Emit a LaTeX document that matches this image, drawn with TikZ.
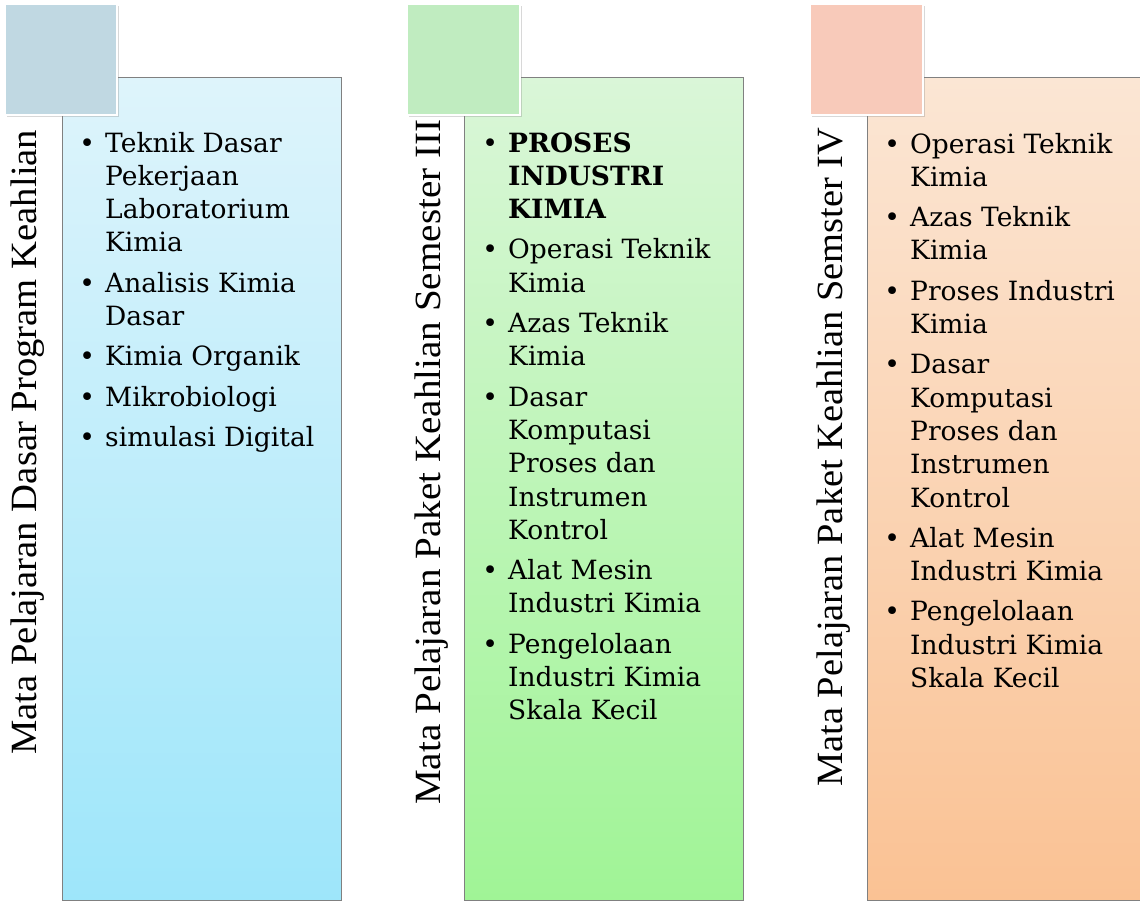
\documentclass[tikz,border=0pt]{standalone}
\usepackage{fontspec}
\setmainfont{DejaVu Serif}
\newfontfamily\vfont{Liberation Serif}
\usetikzlibrary{shadows}
\definecolor{bluetop}{RGB}{222,244,251}
\definecolor{bluebot}{RGB}{158,230,250}
\definecolor{greentop}{RGB}{218,246,216}
\definecolor{greenbot}{RGB}{160,244,150}
\definecolor{orangetop}{RGB}{251,230,212}
\definecolor{orangebot}{RGB}{250,194,148}
\definecolor{bluetab}{RGB}{192,216,226}
\definecolor{greentab}{RGB}{192,236,192}
\definecolor{orangetab}{RGB}{248,202,186}
\tikzset{
  colbox/.style={draw=black!50, line width=0.9pt},
  tabsq/.style={draw=white, line width=2.2pt,
    drop shadow={opacity=0.3, shadow xshift=1.5pt, shadow yshift=-1.5pt}},
  vlabel/.style={rotate=90, anchor=base west, inner sep=0pt,
    font=\vfont\fontsize{37}{40}\selectfont},
  listtext/.style={anchor=base west, inner sep=0pt,
    font=\fontsize{26.5}{33.3}\selectfont},
}
\newcommand{\bul}{\makebox[36pt][c]{\textbullet}}
\begin{document}
\begin{tikzpicture}[x=1pt,y=-1pt]
\useasboundingbox (0,0) rectangle (1140,902);
\fill[white] (0,0) rectangle (1140,902);

% column boxes
\shade[top color=bluetop, bottom color=bluebot] (62,77) rectangle (341,900);
\draw[colbox] (62,77) rectangle (341,900);
\shade[top color=greentop, bottom color=greenbot] (464,77) rectangle (743,900);
\draw[colbox] (464,77) rectangle (743,900);
\shade[top color=orangetop, bottom color=orangebot] (867,77) rectangle (1150,900);
\draw[colbox] (867,77) rectangle (1150,900);

% tabs
\path[tabsq, fill=bluetab] (5,4) rectangle (117,115);
\path[tabsq, fill=greentab] (407,4) rectangle (520,115);
\path[tabsq, fill=orangetab] (810,4) rectangle (923,115);

% vertical labels
\node[vlabel] (v1) at (37,755) {\resizebox{625pt}{\height}{Mata Pelajaran Dasar Program Keahlian}};
\node[vlabel] (v2) at (440,805) {\resizebox{685pt}{\height}{Mata Pelajaran Paket Keahlian Semester III}};
\node[vlabel] (v3) at (842,787) {\resizebox{659pt}{\height}{Mata Pelajaran Paket Keahlian Semster IV}};

% lists
\node[listtext] (l1) at (69,152) {\begin{tabular}[t]{@{}l@{}l@{}}
\bul & Teknik Dasar\\
 & Pekerjaan\\
 & Laboratorium\\
 & Kimia\\[7pt]
\bul & Analisis Kimia\\
 & Dasar\\[7pt]
\bul & Kimia Organik\\[7pt]
\bul & Mikrobiologi\\[7pt]
\bul & simulasi Digital
\end{tabular}};

\node[listtext] (l2) at (472,152) {\begin{tabular}[t]{@{}l@{}l@{}}
\bul & \textbf{PROSES}\\
 & \textbf{INDUSTRI}\\
 & \textbf{KIMIA}\\[7pt]
\bul & Operasi Teknik\\
 & Kimia\\[7pt]
\bul & Azas Teknik\\
 & Kimia\\[7pt]
\bul & Dasar\\
 & Komputasi\\
 & Proses dan\\
 & Instrumen\\
 & Kontrol\\[7pt]
\bul & Alat Mesin\\
 & Industri Kimia\\[7pt]
\bul & Pengelolaan\\
 & Industri Kimia\\
 & Skala Kecil
\end{tabular}};

\node[listtext] (l3) at (874,153) {\begin{tabular}[t]{@{}l@{}l@{}}
\bul & Operasi Teknik\\
 & Kimia\\[7pt]
\bul & Azas Teknik\\
 & Kimia\\[7pt]
\bul & Proses Industri\\
 & Kimia\\[7pt]
\bul & Dasar\\
 & Komputasi\\
 & Proses dan\\
 & Instrumen\\
 & Kontrol\\[7pt]
\bul & Alat Mesin\\
 & Industri Kimia\\[7pt]
\bul & Pengelolaan\\
 & Industri Kimia\\
 & Skala Kecil
\end{tabular}};
\end{tikzpicture}
\end{document}
